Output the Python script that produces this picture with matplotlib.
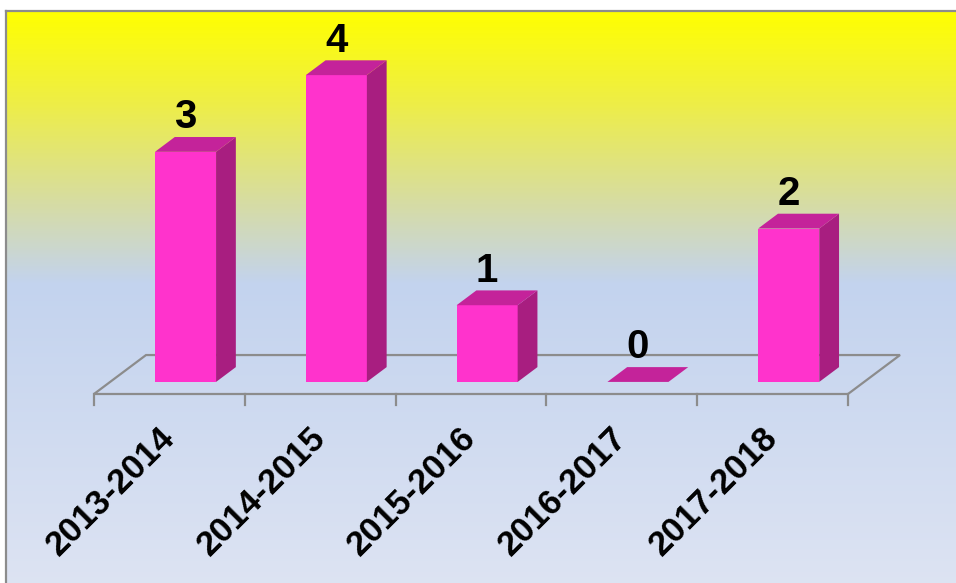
import numpy as np
import matplotlib.pyplot as plt
from matplotlib.patches import Polygon

plt.rcParams['font.family'] = ['Liberation Sans', 'DejaVu Sans']

categories = ["2013-2014", "2014-2015", "2015-2016", "2016-2017", "2017-2018"]
counts = [3, 4, 1, 0, 2]

FRONT = "#FF33CC"
SIDE = "#A81E80"
TOP = "#C4239A"
FLOOR = "#8C8C8C"

# pseudo-3D geometry (data units)
DX, DY = 0.345, 0.508   # full floor depth offset
F0, F1 = 0.31, 0.69     # bar depth range
BW = 0.405              # bar width

W, H = 956, 583
fig = plt.figure(figsize=(W / 100, H / 100), dpi=100)

# gradient background of the plot area
bg = fig.add_axes([6 / W, -0.02, 1.02, (H - 11) / H + 0.02])
stops_y = [11, 100, 200, 277, 583]
stops_c = np.array([(255, 255, 0), (238, 238, 70), (214, 220, 165),
                    (195, 211, 238), (222, 228, 243)]) / 255.0
rows = np.arange(11, H)
grad = np.stack([np.interp(rows, stops_y, stops_c[:, k]) for k in range(3)], axis=1)
bg.imshow(grad[:, None, :], aspect="auto", extent=(0, 1, 0, 1))
bg.set_xticks([])
bg.set_yticks([])
for s in ("right", "bottom"):
    bg.spines[s].set_visible(False)
for s in ("left", "top"):
    bg.spines[s].set_color("#8C8C8C")
    bg.spines[s].set_linewidth(1.6)

ax = fig.add_axes([0, 0, 1, 1])
ax.patch.set_alpha(0)
ax.set_xlim((0 - 94) / 150.8, (W - 94) / 150.8)
ax.set_ylim((394 - H) / 76.7, 394 / 76.7)
ax.axis("off")

n = len(categories)
# floor outline
floor = Polygon([(0, 0), (n, 0), (n + DX, DY), (DX, DY)], closed=True,
                fill=False, edgecolor=FLOOR, lw=1.6, zorder=1)
ax.add_patch(floor)
for k in range(n + 1):
    ax.plot([k, k], [0, -0.145], color=FLOOR, lw=1.6, zorder=1)

dd = F1 - F0
for i, v in enumerate(counts):
    xl = i + 0.5 - BW / 2 + F0 * DX
    xr = xl + BW
    y0 = F0 * DY
    top = v + y0
    ox, oy = dd * DX, dd * DY
    if v > 0:
        ax.add_patch(Polygon([(xl, y0), (xr, y0), (xr, top), (xl, top)],
                             facecolor=FRONT, edgecolor="none", zorder=2))
        ax.add_patch(Polygon([(xr, y0), (xr + ox, y0 + oy), (xr + ox, top + oy), (xr, top)],
                             facecolor=SIDE, edgecolor="none", zorder=2))
    ax.add_patch(Polygon([(xl, top), (xr, top), (xr + ox, top + oy), (xl + ox, top + oy)],
                         facecolor=TOP, edgecolor="none", zorder=2))
    ax.text((xl + xr) / 2, top + oy + 0.01, str(v), ha="center", va="bottom",
            fontsize=29, fontweight="bold", color="black", zorder=3)

for i, lab in enumerate(categories):
    ax.text(i + 0.50, -0.50, lab, rotation=45, rotation_mode="anchor",
            ha="right", va="center", fontsize=25, fontweight="bold", color="black")

fig.savefig("out.png", dpi=100)
